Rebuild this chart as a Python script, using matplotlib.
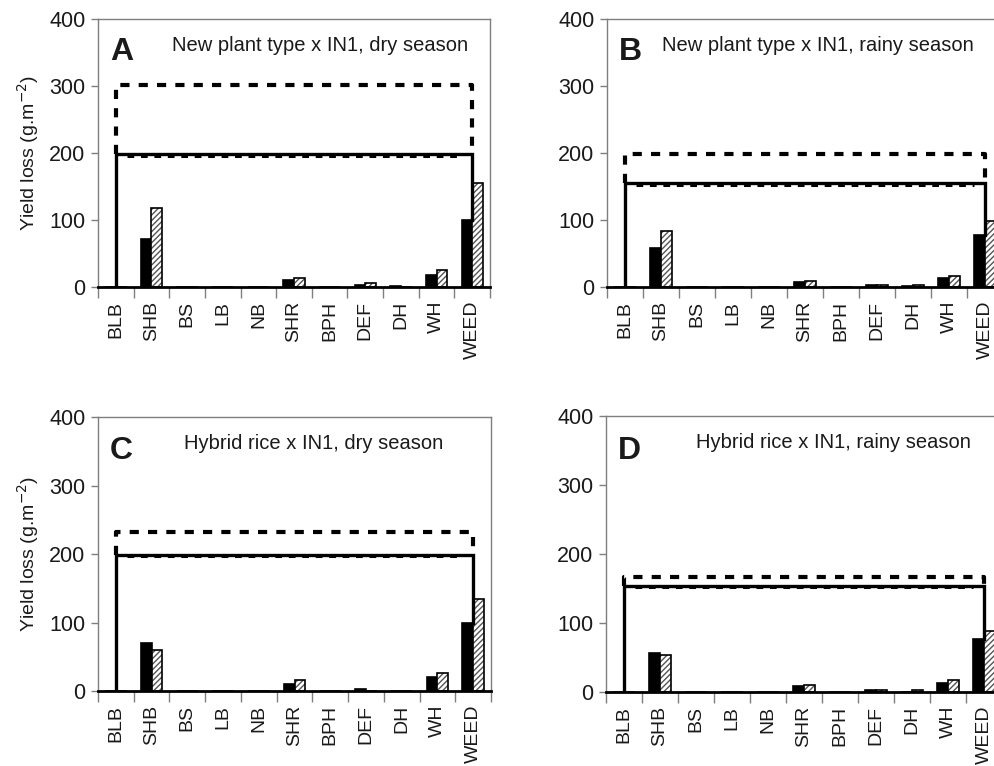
import numpy as np
import matplotlib
matplotlib.use('Agg')
import matplotlib.pyplot as plt

plt.rcParams['font.family'] = ['Liberation Sans', 'DejaVu Sans']

categories = ['BLB', 'SHB', 'BS', 'LB', 'NB', 'SHR', 'BPH', 'DEF', 'DH', 'WH', 'WEED']

# panel A: new plant type x IN1, dry season
a_solid = [0, 72, 0, 0, 0, 10, 0, 3.5, 1, 18, 100]
a_hatch = [0, 118, 0, 0, 0, 14, 0, 6, 0, 26, 155]
a_total = [198, 302]

# panel B: new plant type x IN1, rainy season
b_solid = [0, 58, 0, 0, 0, 7.5, 0, 3.5, 1, 13, 77]
b_hatch = [0, 83, 0, 0, 0, 9.5, 0, 3.5, 3, 16, 99]
b_total = [155, 198]

# panel C: hybrid rice x IN1, dry season
c_solid = [0, 70, 0, 0, 0, 10.5, 0, 3.5, 0, 20, 100]
c_hatch = [0, 60, 0, 0, 0, 15.5, 0, 0, 0, 27, 135]
c_total = [199, 232]

# panel D: hybrid rice x IN1, rainy season
d_solid = [0, 56, 0, 0, 0, 8, 0, 3.5, 0.5, 13.5, 77]
d_hatch = [0, 53, 0, 0, 0, 10, 0, 3.5, 3.5, 17, 89]
d_total = [154, 166]

panels = [
    ('A', 'New plant type x IN1, dry season', a_solid, a_hatch, a_total),
    ('B', 'New plant type x IN1, rainy season', b_solid, b_hatch, b_total),
    ('C', 'Hybrid rice x IN1, dry season', c_solid, c_hatch, c_total),
    ('D', 'Hybrid rice x IN1, rainy season', d_solid, d_hatch, d_total),
]

# axes boxes in figure fractions [left, bottom, width, height]
boxes = [
    [0.0985, 0.6253, 0.394, 0.3499],
    [0.610, 0.6253, 0.398, 0.3499],
    [0.0985, 0.0979, 0.395, 0.3577],
    [0.609, 0.0966, 0.398, 0.3603],
]
title_x = [0.189, 0.14, 0.219, 0.227]

GRAY = '#7f7f7f'
TXT = '#1a1a1a'

fig = plt.figure(figsize=(9.95, 7.66), dpi=100)
plt.rcParams['hatch.linewidth'] = 1.0

for i, (letter, title, solid, hatch, total) in enumerate(panels):
    ax = fig.add_axes(boxes[i])
    x = np.arange(len(categories))
    w = 0.3
    ax.bar(x - w / 2, solid, w, color='black', edgecolor='black', linewidth=1.2, zorder=3)
    # hatched bars: gray hatch, then black outline on top
    ax.bar(x + w / 2, hatch, w, color='white', edgecolor='#555555', hatch='//////',
           linewidth=0, zorder=3)
    ax.bar(x + w / 2, hatch, w, fill=False, edgecolor='black', linewidth=1.2, zorder=4)

    # total-loss brackets
    first, last = x[0], x[-1]
    ax.plot([first, first, last, last], [0, total[0], total[0], solid[-1]],
            color='black', lw=2.4, solid_joinstyle='miter', zorder=5)
    ax.plot([first, first, last, last], [total[0], total[1], total[1], total[0]],
            color='black', lw=3, linestyle=(0, (2.2, 2.2)), zorder=5)
    ax.plot([first + 0.3, last - 0.3], [total[0] - 2, total[0] - 2],
            color='black', lw=2.2, linestyle=(0, (2.2, 2.2)), zorder=4)

    ax.set_xlim(-0.5, len(categories) - 0.5)
    ax.set_ylim(0, 400)
    ax.set_yticks([0, 100, 200, 300, 400])
    ax.tick_params(axis='y', direction='out', length=5, color=GRAY, width=1,
                   labelsize=15.5, labelcolor=TXT, pad=4)

    ax.set_xticks(np.arange(-0.5, len(categories)), [''] * (len(categories) + 1))
    ax.set_xticks(x, categories, minor=True)
    ax.tick_params(axis='x', which='major', direction='out', length=8, color=GRAY, width=1)
    ax.tick_params(axis='x', which='minor', length=0, labelsize=14, labelcolor=TXT,
                   labelrotation=90, pad=10)
    for lab in ax.get_xticklabels(minor=True):
        lab.set_va('top')
        lab.set_ha('center')

    for s in ['top', 'right', 'left']:
        ax.spines[s].set_color(GRAY)
        ax.spines[s].set_linewidth(1)
    ax.spines['bottom'].set_color('black')
    ax.spines['bottom'].set_linewidth(2)
    ax.spines['bottom'].set_zorder(6)

    ax.text(0.03, 0.875, letter, transform=ax.transAxes, fontsize=23,
            fontweight='bold', ha='left', va='center', color=TXT)
    ax.text(title_x[i], 0.9 if i < 2 else 0.905, title, transform=ax.transAxes,
            fontsize=14.5, ha='left', va='center', color=TXT)

    if i in (0, 2):
        ax.set_ylabel('Yield loss (g.m$^{-2}$)', fontsize=14, color=TXT, labelpad=6)

fig.savefig('out.png', dpi=100)
